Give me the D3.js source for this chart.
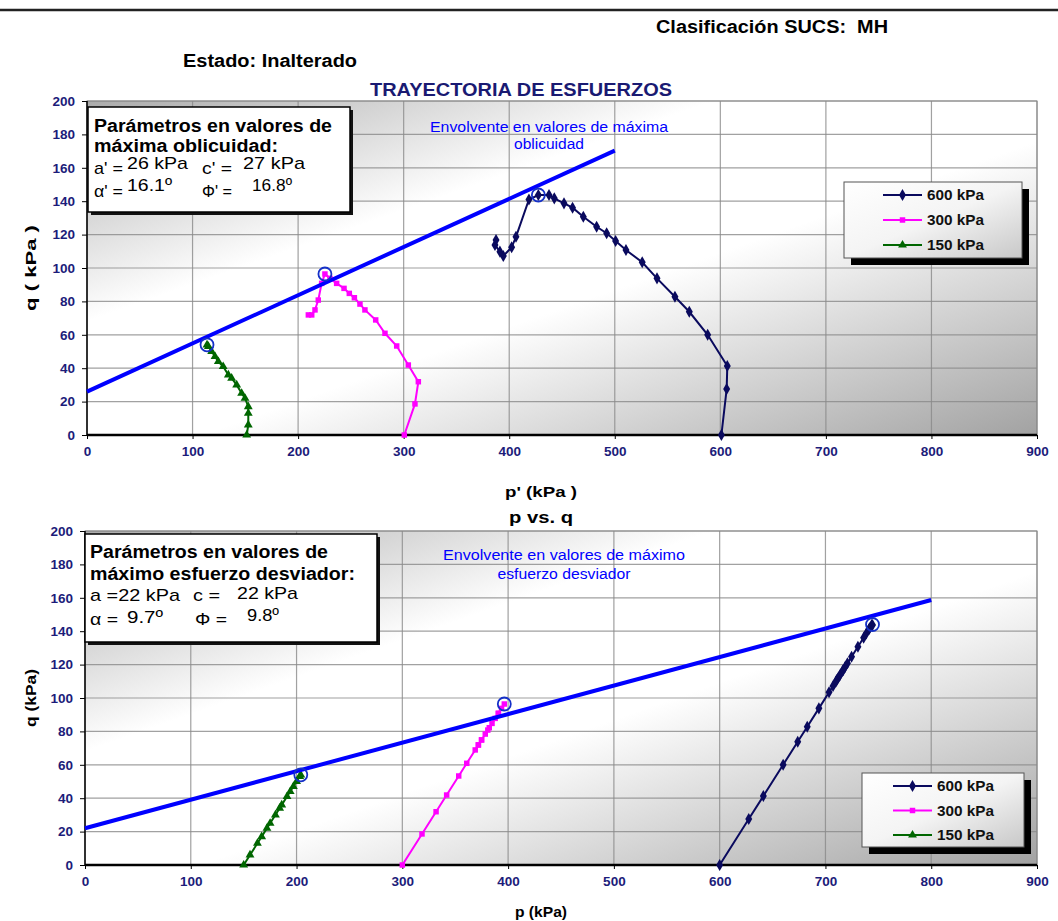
<!DOCTYPE html>
<html>
<head>
<meta charset="utf-8">
<script src="https://cdn.jsdelivr.net/npm/d3@7"></script>
<style>
  body { margin: 0; background: #fff; }
  text { font-family: "Liberation Sans", Arial, sans-serif; white-space: pre; }
</style>
</head>
<body>
<svg id="chart" width="1058" height="921"></svg>
<script>
// ---- data ----
const xTicks = [0, 100, 200, 300, 400, 500, 600, 700, 800, 900];
const yTicks = [0, 20, 40, 60, 80, 100, 120, 140, 160, 180, 200];
const seriesNames = ["600 kPa", "300 kPa", "150 kPa"];

// deviator stress q (kPa), same tests in both charts
const q600 = [0, 27.5, 41.3, 60, 73.8, 82.8, 93.8, 103.4, 110.8, 116.2, 120.8, 124.7, 130.7, 136.1, 138.7, 141.7, 143.7, 143.7, 141, 118.7, 112.4, 107.2, 109.8, 113.8, 116.8];
const q300 = [0, 18.6, 31.9, 41.9, 53.3, 60.9, 68.9, 74.9, 78.4, 82.2, 84.8, 87.8, 90.8, 93.8, 96.4, 90.8, 80.8, 74.9, 71.9, 71.9];
const q150 = [0, 6, 13, 17, 22, 25, 30, 34, 36, 41, 44, 47, 50, 53, 54];

// effective mean stress p' (top chart)
const pe600 = [601, 606, 606.6, 588, 570.6, 557, 540, 526, 510.6, 500.8, 492.3, 482.8, 470.2, 460, 451.9, 442.7, 437.7, 427.6, 418.7, 406.4, 402.3, 394.4, 391.2, 386.5, 387.5];
const pe300 = [300.6, 310.7, 313.9, 304.4, 293.4, 282.3, 273.5, 263.3, 258.6, 253.3, 248.5, 243.5, 236.5, 230.2, 225.4, 222.3, 219.1, 216, 212.9, 209.7];
const pe150 = [151.3, 152.8, 152.8, 152.8, 149.7, 146.5, 141.8, 137, 133.9, 129, 124.4, 121.3, 118.1, 115, 113.7];

// total mean stress p (bottom chart)
const pt600 = [600, 627.5, 641.3, 660, 673.8, 682.8, 693.8, 703.4, 710.8, 716.2, 720.8, 724.7, 730.7, 736.1, 738.7, 741.7, 743.7, 744.5, 741, 718.7, 712.4, 707.2, 709.8, 713.8, 716.8];
const pt300 = [300, 318.6, 331.9, 341.9, 353.3, 360.9, 368.9, 374.9, 378.4, 382.2, 384.8, 387.8, 390.8, 393.8, 396.4, 390.8, 380.8, 374.9, 371.9, 371.9];
const pt150 = [150, 156, 163, 167, 172, 175, 180, 184, 186, 191, 194, 197, 200, 203, 204];

// failure points (circled)
const peakTopP = [427.6, 225.4, 113.7];
const peakTopQ = [143.7, 96.4, 54];
const peakBotP = [744.5, 396.4, 204];
const peakBotQ = [144, 96.4, 54];

// envelopes
const envTopP = [0, 500];
const envTopQ = [26, 170.3];
const envBotP = [0, 800];
const envBotQ = [22, 158.7];

const colors = ["#0a0a5e", "#ff00ff", "#006600"];
const shapes = [d3.symbolDiamond, d3.symbolSquare, d3.symbolTriangle];
const shapeSize = [42, 30, 34];

const svg = d3.select("#chart");
const defs = svg.append("defs");

const bg = defs.append("linearGradient").attr("id", "bg")
  .attr("x1", 0).attr("y1", 0).attr("x2", 1).attr("y2", 1);
bg.append("stop").attr("offset", 0).attr("stop-color", "#ababab");
bg.append("stop").attr("offset", 0.33).attr("stop-color", "#ffffff");
bg.append("stop").attr("offset", 0.56).attr("stop-color", "#ffffff");
bg.append("stop").attr("offset", 1).attr("stop-color", "#a2a2a2");

const lg = defs.append("linearGradient").attr("id", "lg")
  .attr("x1", 0).attr("y1", 0).attr("x2", 1).attr("y2", 1);
lg.append("stop").attr("offset", 0).attr("stop-color", "#ffffff");
lg.append("stop").attr("offset", 0.5).attr("stop-color", "#f4f4f4");
lg.append("stop").attr("offset", 1).attr("stop-color", "#c8c8c8");

function txt(g, x, y, s, o) {
  o = o || {};
  const t = g.append("text")
    .attr("x", x).attr("y", y)
    .attr("font-size", o.size || 14)
    .attr("font-weight", o.weight || "normal")
    .attr("fill", o.fill || "#000")
    .attr("text-anchor", o.anchor || "start")
    .text(s);
  if (o.len) t.attr("textLength", o.len).attr("lengthAdjust", "spacingAndGlyphs");
  if (o.rotate) t.attr("transform", `rotate(-90,${x},${y})`);
  return t;
}

// header
svg.append("line").attr("x1", 0).attr("x2", 1058).attr("y1", 10).attr("y2", 10)
  .attr("stroke", "#222").attr("stroke-width", 2.5);
txt(svg, 656, 33, "Clasificación SUCS:  MH", { size: 18, weight: "bold", len: 232 });
txt(svg, 183, 67, "Estado: Inalterado", { size: 18, weight: "bold", len: 174 });
txt(svg, 370, 96, "TRAYECTORIA DE ESFUERZOS", { size: 18, weight: "bold", fill: "#1a1a72", len: 302 });

function chart(cfg) {
  const g = svg.append("g");
  const x = d3.scaleLinear().domain([0, 900]).range([cfg.left, cfg.right]);
  const y = d3.scaleLinear().domain([0, 200]).range([cfg.bottom, cfg.top]);
  const w = cfg.right - cfg.left, h = cfg.bottom - cfg.top;

  g.append("rect").attr("x", cfg.left).attr("y", cfg.top)
    .attr("width", w).attr("height", h).attr("fill", "url(#bg)")
    .attr("stroke", "#888").attr("stroke-width", 1);

  // grid
  g.append("g").selectAll("line").data(xTicks.slice(1)).join("line")
    .attr("x1", d => x(d)).attr("x2", d => x(d))
    .attr("y1", cfg.top).attr("y2", cfg.bottom)
    .attr("stroke", "#8a8a8a").attr("stroke-width", 1.2).attr("opacity", 0.8);
  g.append("g").selectAll("line").data(yTicks.slice(1)).join("line")
    .attr("x1", cfg.left).attr("x2", cfg.right)
    .attr("y1", d => y(d)).attr("y2", d => y(d))
    .attr("stroke", "#8a8a8a").attr("stroke-width", 1.2).attr("opacity", 0.8);

  // axes
  const ax = g.append("g").attr("transform", `translate(0,${cfg.bottom})`)
    .call(d3.axisBottom(x).tickValues(xTicks).tickSize(4).tickPadding(7));
  const ay = g.append("g").attr("transform", `translate(${cfg.left},0)`)
    .call(d3.axisLeft(y).tickValues(yTicks).tickSize(5).tickPadding(7));
  [ax, ay].forEach(a => {
    a.select(".domain").remove();
    a.selectAll("line").attr("stroke", "#000");
    a.selectAll("text").attr("font-size", 13.5).attr("font-weight", "bold")
      .attr("fill", "#1c1c7a").style("font-family", "'Liberation Sans', Arial, sans-serif");
  });
  g.append("line").attr("x1", cfg.left).attr("x2", cfg.left)
    .attr("y1", cfg.top).attr("y2", cfg.bottom).attr("stroke", "#000").attr("stroke-width", 1.5);
  g.append("line").attr("x1", cfg.left).attr("x2", cfg.right)
    .attr("y1", cfg.bottom).attr("y2", cfg.bottom).attr("stroke", "#000").attr("stroke-width", 2.5);

  // series
  const line = d3.line().x(d => x(d[0])).y(d => y(d[1]));
  cfg.series.forEach((s, i) => {
    const pts = s.p.map((p, k) => [p, s.q[k]]);
    g.append("path").attr("d", line(pts)).attr("fill", "none")
      .attr("stroke", colors[i]).attr("stroke-width", 2);
    g.append("g").selectAll("path").data(pts).join("path")
      .attr("transform", d => `translate(${x(d[0])},${y(d[1])})`)
      .attr("d", d3.symbol().type(shapes[i]).size(shapeSize[i]))
      .attr("fill", colors[i]);
  });

  // envelope
  g.append("path")
    .attr("d", line(cfg.envP.map((p, k) => [p, cfg.envQ[k]])))
    .attr("stroke", "#0000ff").attr("stroke-width", 4).attr("fill", "none");

  // failure circles
  g.append("g").selectAll("circle").data(cfg.peakP).join("circle")
    .attr("cx", d => x(d)).attr("cy", (d, i) => y(cfg.peakQ[i])).attr("r", 6.5)
    .attr("fill", "none").attr("stroke", "#1530c8").attr("stroke-width", 1.8);

  // envelope note
  txt(g, cfg.noteX, cfg.noteY, cfg.note[0], { size: 14, fill: "#0000ff", anchor: "middle", len: cfg.noteLen[0] });
  txt(g, cfg.noteX, cfg.noteY + cfg.noteGap, cfg.note[1], { size: 14, fill: "#0000ff", anchor: "middle", len: cfg.noteLen[1] });

  // parameter box
  const b = cfg.box;
  g.append("rect").attr("x", b.x + 3).attr("y", b.y + 3).attr("width", b.w).attr("height", b.h).attr("fill", "#111");
  g.append("rect").attr("x", b.x).attr("y", b.y).attr("width", b.w).attr("height", b.h)
    .attr("fill", "#fff").attr("stroke", "#000").attr("stroke-width", 1.5);
  b.lines.forEach(l => txt(g, l[0], l[1], l[2], { size: l[3], weight: l[4], len: l[5] }));

  // legend
  const L = cfg.legend;
  g.append("rect").attr("x", L.x + 7).attr("y", L.y + 7).attr("width", L.w).attr("height", L.h).attr("fill", "#000");
  g.append("rect").attr("x", L.x).attr("y", L.y).attr("width", L.w).attr("height", L.h)
    .attr("fill", "url(#lg)").attr("stroke", "#555").attr("stroke-width", 1);
  seriesNames.forEach((name, i) => {
    const yy = L.y + L.row0 + i * L.rowGap;
    g.append("line").attr("x1", L.x + L.lx).attr("x2", L.x + L.lx + 39)
      .attr("y1", yy).attr("y2", yy).attr("stroke", colors[i]).attr("stroke-width", 2);
    g.append("path").attr("transform", `translate(${L.x + L.lx + 19.5},${yy})`)
      .attr("d", d3.symbol().type(shapes[i]).size(shapeSize[i])).attr("fill", colors[i]);
    txt(g, L.x + L.lx + 44, yy + 5, name, { size: 14, weight: "bold", fill: "#111", len: 57 });
  });

  // axis titles
  txt(g, cfg.xTitleX, cfg.xTitleY, cfg.xTitle, { size: 15, weight: "bold", anchor: "middle", len: cfg.xTitleLen });
  txt(g, 36, (cfg.top + cfg.bottom) / 2, cfg.yTitle, { size: 15, weight: "bold", anchor: "middle", rotate: true, len: cfg.yTitleLen });
}

chart({
  left: 87, right: 1037, top: 101, bottom: 435,
  series: [{ p: pe600, q: q600 }, { p: pe300, q: q300 }, { p: pe150, q: q150 }],
  envP: envTopP, envQ: envTopQ, peakP: peakTopP, peakQ: peakTopQ,
  note: ["Envolvente en valores de máxima", "oblicuidad"], noteLen: [238, 70],
  noteX: 549, noteY: 132, noteGap: 17,
  box: {
    x: 88, y: 107, w: 262, h: 105,
    lines: [
      [94, 132, "Parámetros en valores de", 18, "bold", 238],
      [94, 152, "máxima oblicuidad:", 18, "bold", 184],
      [94, 174, "a' =", 17, "normal", 29],
      [127, 169, "26 kPa", 17, "normal", 61],
      [202, 174, "c' =", 17, "normal", 30],
      [243, 169, "27 kPa", 17, "normal", 62],
      [94, 197, "α' =", 17, "normal", 29],
      [127, 191, "16.1º", 17, "normal", 45],
      [202, 197, "Φ' =", 17, "normal", 30],
      [252, 191, "16.8º", 17, "normal", 40]
    ]
  },
  legend: { x: 844, y: 182, w: 178, h: 76, lx: 39, row0: 13, rowGap: 25 },
  xTitle: "p' (kPa )", xTitleX: 541, xTitleY: 497, xTitleLen: 72,
  yTitle: "q ( kPa )", yTitleLen: 86
});

txt(svg, 541, 523, "p vs. q", { size: 16, weight: "bold", anchor: "middle", len: 64 });

chart({
  left: 85, right: 1037, top: 531, bottom: 865,
  series: [{ p: pt600, q: q600 }, { p: pt300, q: q300 }, { p: pt150, q: q150 }],
  envP: envBotP, envQ: envBotQ, peakP: peakBotP, peakQ: peakBotQ,
  note: ["Envolvente en valores de máximo", "esfuerzo desviador"], noteLen: [242, 133],
  noteX: 564, noteY: 560, noteGap: 19,
  box: {
    x: 85, y: 534, w: 292, h: 108,
    lines: [
      [90, 558, "Parámetros en valores de", 18, "bold", 238],
      [90, 580, "máximo esfuerzo desviador:", 18, "bold", 265],
      [90, 601, "a =22 kPa", 17, "normal", 90],
      [193, 601, "c =", 17, "normal", 27],
      [237, 599, "22 kPa", 17, "normal", 61],
      [90, 625, "α =", 17, "normal", 28],
      [127, 623, "9.7º", 17, "normal", 36],
      [195, 625, "Φ =", 17, "normal", 32],
      [247, 621, "9.8º", 17, "normal", 32]
    ]
  },
  legend: { x: 862, y: 773, w: 162, h: 74, lx: 31, row0: 13, rowGap: 24.5 },
  xTitle: "p (kPa)", xTitleX: 541, xTitleY: 917, xTitleLen: 52,
  yTitle: "q (kPa)", yTitleLen: 58
});
</script>
</body>
</html>
